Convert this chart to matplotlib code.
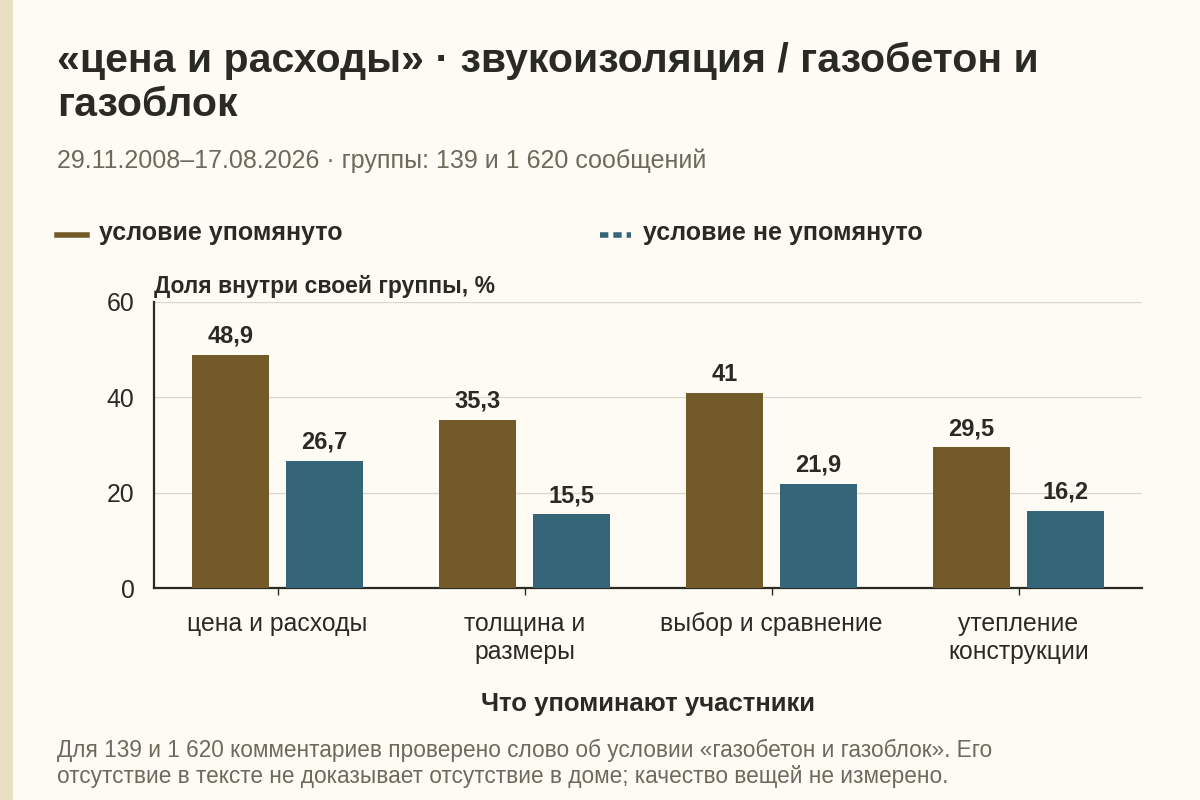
import matplotlib
matplotlib.use('Agg')
import matplotlib.pyplot as plt
from matplotlib.lines import Line2D
from matplotlib.patches import Rectangle
import numpy as np

plt.rcParams['font.family'] = ['Liberation Sans', 'DejaVu Sans']

# Data
categories = ['цена и расходы', 'толщина и\nразмеры', 'выбор и сравнение', 'утепление\nконструкции']
mentioned = [48.9, 35.3, 41, 29.5]
not_mentioned = [26.7, 15.5, 21.9, 16.2]
series_names = ['условие упомянуто', 'условие не упомянуто']
y_ticks = [0, 20, 40, 60]

title = '«цена и расходы» · звукоизоляция / газобетон и\nгазоблок'
subtitle = '29.11.2008–17.08.2026 · группы: 139 и 1 620 сообщений'
y_label = 'Доля внутри своей группы, %'
x_label = 'Что упоминают участники'
footer = ('Для 139 и 1 620 комментариев проверено слово об условии «газобетон и газоблок». Его\n'
          'отсутствие в тексте не доказывает отсутствие в доме; качество вещей не измерено.')

# Styles
BG = '#fdfbf3'
STRIPE = '#e9dfc3'
OLIVE = '#725b28'
TEAL = '#356579'
DARK = '#2a2a24'
GREY = '#6d6a5c'
GRID = '#dcd8cc'

fig = plt.figure(figsize=(12, 8), dpi=100, facecolor=BG)
fig.add_artist(Rectangle((0, 0), 13 / 1200, 1, transform=fig.transFigure,
                         facecolor=STRIPE, edgecolor='none'))

ax = fig.add_axes([154 / 1200, 1 - 588 / 800, 988 / 1200, 286 / 800])
ax.set_facecolor(BG)

x = np.arange(len(categories))
width = 0.315
offset = 0.19
bars1 = ax.bar(x - offset, mentioned, width, color=OLIVE, zorder=3)
bars2 = ax.bar(x + offset, not_mentioned, width, color=TEAL, zorder=3)

for bars, vals in [(bars1, mentioned), (bars2, not_mentioned)]:
    for b, v in zip(bars, vals):
        txt = f'{v:g}'.replace('.', ',')
        ax.annotate(txt, (b.get_x() + b.get_width() / 2, v), xytext=(0, 5),
                    textcoords='offset points', ha='center', va='bottom',
                    fontsize=17, fontweight='bold', color=DARK)

ax.set_xlim(-0.5, len(categories) - 0.5)
ax.set_ylim(0, 60)
ax.set_yticks(y_ticks)
ax.set_xticks(x)
ax.set_xticklabels(categories, fontsize=17.8, color=DARK, linespacing=1.22)
ax.tick_params(axis='y', length=0, labelsize=17.8, labelcolor=DARK, pad=14)
ax.tick_params(axis='x', length=5, width=1, color=DARK, pad=12)
ax.grid(axis='y', color=GRID, linewidth=1, zorder=0)
for s in ['top', 'right']:
    ax.spines[s].set_visible(False)
for s in ['left', 'bottom']:
    ax.spines[s].set_color(DARK)
    ax.spines[s].set_linewidth(1.6)
ax.set_xlabel(x_label, fontsize=18.5, fontweight='bold', color=DARK, labelpad=20)

# Texts
fig.text(57 / 1200, 1 - 42 / 800, title, fontsize=29.5, fontweight='bold', color=DARK,
         va='top', ha='left', linespacing=1.2)
fig.text(57 / 1200, 1 - 161 / 800, subtitle, fontsize=18, color=GREY, va='center', ha='left')
fig.text(154 / 1200, 1 - 286 / 800, y_label, fontsize=16.5, fontweight='bold', color=DARK,
         va='center', ha='left')

# Legend
leg_y = 1 - 235 / 800
fig.add_artist(Line2D([57 / 1200, 87 / 1200], [leg_y, leg_y], transform=fig.transFigure,
                      color=OLIVE, linewidth=4))
fig.text(99 / 1200, leg_y + 2 / 800, series_names[0], fontsize=18, fontweight='bold',
         color=DARK, va='center', ha='left')
fig.add_artist(Line2D([600 / 1200, 631 / 1200], [leg_y, leg_y], transform=fig.transFigure,
                      color=TEAL, linewidth=4, linestyle=(0, (1.5, 0.9))))
fig.text(643 / 1200, leg_y + 2 / 800, series_names[1], fontsize=18, fontweight='bold',
         color=DARK, va='center', ha='left')

fig.text(57 / 1200, 1 - 739 / 800, footer, fontsize=16.3, color=GREY, va='top', ha='left',
         linespacing=1.18)

fig.savefig('out.png', dpi=100, facecolor=BG)
